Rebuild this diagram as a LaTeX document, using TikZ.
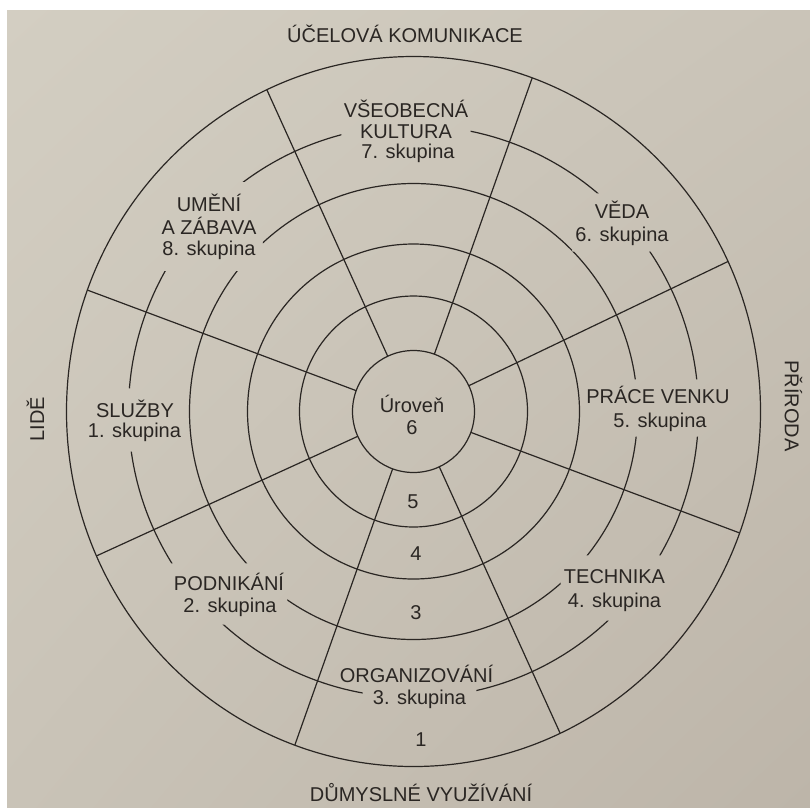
\documentclass[tikz,border=0pt]{standalone}
\usepackage{fontspec}
\setmainfont{Liberation Sans}
\usetikzlibrary{fit,calc,shadings}
\definecolor{paperUL}{HTML}{D3CEC2}
\definecolor{paperUR}{HTML}{CAC4B8}
\definecolor{paperLL}{HTML}{C9C3B7}
\definecolor{paperLR}{HTML}{BDB5A9}
\definecolor{ink}{HTML}{2A2623}
\begin{document}
\begin{tikzpicture}[x=1pt,y=-1pt,
  lbl/.style={font=\fontsize{20}{24}\selectfont, text=ink, inner sep=0pt,
              text height=14.3pt, text depth=0pt, anchor=center},
  ring/.style={draw=ink, line width=1.2pt},
  spoke/.style={draw=ink, line width=1.2pt},
  maskbox/.style={inner sep=0pt, draw=none}]
\useasboundingbox (0,0) rectangle (810,807);
\fill[white] (0,0) rectangle (810,807);
\shade[upper left=paperUL, upper right=paperUR, lower left=paperLL, lower right=paperLR]
  (7,10) rectangle (810,807);

% side titles
\node[lbl] (top) at (405,35) {ÚČELOVÁ KOMUNIKACE};
\node[lbl] (bottom) at (421,794.5) {DŮMYSLNÉ VYUŽÍVÁNÍ};
\node[lbl, rotate=90] (left) at (37,419) {LIDĚ};
\node[lbl, rotate=-90] (right) at (792,406) {PŘÍRODA};

% group labels
\node[lbl] (g7a) at (406,110.5) {VŠEOBECNÁ};
\node[lbl] (g7b) at (406,131.5) {KULTURA};
\node[lbl] (g7c) at (408,151.5) {7. skupina};
\node[lbl] (g8a) at (209,204.5) {UMĚNÍ};
\node[lbl] (g8b) at (209,227.5) {A ZÁBAVA};
\node[lbl] (g8c) at (209,248.5) {8. skupina};
\node[lbl] (g6a) at (622,211) {VĚDA};
\node[lbl] (g6b) at (622,234) {6. skupina};
\node[lbl] (g1a) at (135,410) {SLUŽBY};
\node[lbl] (g1b) at (134.5,430) {1. skupina};
\node[lbl] (g5a) at (658,396) {PRÁCE VENKU};
\node[lbl] (g5b) at (660,420) {5. skupina};
\node[lbl] (g2a) at (229,583) {PODNIKÁNÍ};
\node[lbl] (g2b) at (230,605) {2. skupina};
\node[lbl] (g4a) at (614.5,576) {TECHNIKA};
\node[lbl] (g4b) at (614.5,600) {4. skupina};
\node[lbl] (g3a) at (416.5,675.5) {ORGANIZOVÁNÍ};
\node[lbl] (g3b) at (419.5,697.5) {3. skupina};

% level labels
\node[lbl] (l6a) at (412,405.5) {Úroveň};
\node[lbl] (l6b) at (412,427) {6};
\node[lbl] (l5) at (413,501) {5};
\node[lbl] (l4) at (416,553.5) {4};
\node[lbl] (l3) at (416,612.5) {3};
\node[lbl] (l1) at (421,739.5) {1};

% gaps in the rings around the group labels
\node[maskbox, fit=(g7a)(g7b)(g7c), inner xsep=2pt, inner ysep=6pt] (m7) {};
\node[maskbox, fit=(g8a)(g8b)(g8c), inner xsep=6pt, inner ysep=15pt] (m8) {};
\node[maskbox, fit=(g6a)(g6b), inner xsep=3pt, inner ysep=10pt] (m6) {};
\node[maskbox, fit=(g1a)(g1b), inner xsep=5pt, inner ysep=14pt] (m1) {};
\node[maskbox, fit=(g5a)(g5b), inner xsep=5pt, inner ysep=9pt] (m5) {};
\node[maskbox, fit=(g2a)(g2b), inner xsep=3pt, inner ysep=12pt] (m2) {};
\node[maskbox, fit=(g4a)(g4b), inner xsep=3pt, inner ysep=13pt] (m4) {};
\node[maskbox, fit=(g3b), inner xsep=10pt, inner ysep=6pt] (m3) {};

\coordinate (C) at (413.5,411.5);
\begin{scope}[even odd rule]
  \clip (0,0) rectangle (810,807)
    (m7.south west) rectangle (m7.north east)
    (m8.south west) rectangle (m8.north east)
    (m6.south west) rectangle (m6.north east)
    (m1.south west) rectangle (m1.north east)
    (m5.south west) rectangle (m5.north east)
    (m2.south west) rectangle (m2.north east)
    (m4.south west) rectangle (m4.north east)
    (m3.south west) rectangle (m3.north east);
  \draw[ring] (C) circle [radius=61];
  \draw[ring] (C) ellipse [x radius=114, y radius=115.5];
  \draw[ring] (C) ellipse [x radius=166, y radius=167.5];
  \draw[ring] (C) ellipse [x radius=224, y radius=228];
  \draw[ring] (C) ellipse [x radius=285, y radius=286];
  \draw[ring] (C) ellipse [x radius=347, y radius=355];
  \foreach \a in {25,70,115,160,204,250,295,340}
    \draw[spoke] ($(C)+(-\a:61)$) -- ($(C)+(-\a:347 and 355)$);
\end{scope}
\end{tikzpicture}
\end{document}
